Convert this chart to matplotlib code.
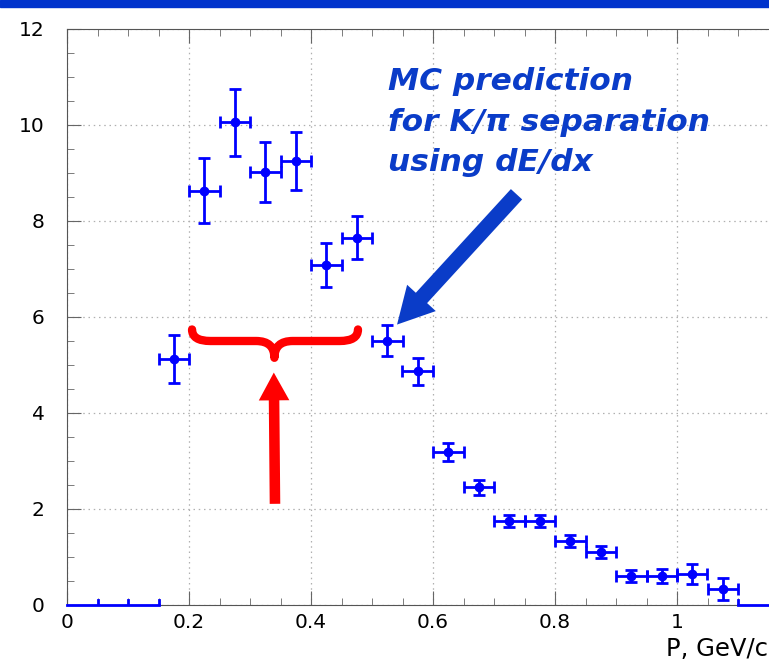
import numpy as np
import matplotlib.pyplot as plt
from matplotlib.path import Path
from matplotlib.patches import PathPatch
from matplotlib.ticker import MultipleLocator

# ======================================
# Data
# ======================================

p_centers = [0.175, 0.225, 0.275, 0.325, 0.375, 0.425, 0.475, 0.525, 0.575,
             0.625, 0.675, 0.725, 0.775, 0.825, 0.875, 0.925, 0.975, 1.025, 1.075]
counts = [5.13, 8.63, 10.06, 9.02, 9.25, 7.09, 7.65, 5.51, 4.87,
          3.19, 2.45, 1.75, 1.75, 1.33, 1.10, 0.60, 0.60, 0.64, 0.33]
count_err = [0.50, 0.68, 0.70, 0.62, 0.61, 0.46, 0.45, 0.33, 0.28,
             0.19, 0.16, 0.13, 0.13, 0.12, 0.12, 0.13, 0.15, 0.21, 0.23]
bin_half = 0.025

# bins with no entries (drawn flat at zero)
empty_low = [0.0, 0.15]
empty_high = [1.1, 1.2]
empty_edges = [0.05, 0.1, 0.15, 1.1]

x_ticks = [0, 0.2, 0.4, 0.6, 0.8, 1]
x_labels = ["0", "0.2", "0.4", "0.6", "0.8", "1"]
y_ticks = [0, 2, 4, 6, 8, 10, 12]

note_text = "MC prediction\nfor K/\u03c0 separation\nusing dE/dx"

# ======================================
# Figure
# ======================================

plt.rcParams["font.family"] = ["DejaVu Sans"]

fig = plt.figure(figsize=(7.69, 6.60), dpi=100)

# blue band at the top
fig.patches.append(plt.Rectangle((0, 1 - 7 / 660), 1, 7 / 660,
                                 transform=fig.transFigure,
                                 color="#0033cc", zorder=0))

ax = fig.add_axes([67 / 769, 55 / 660, 732 / 769, 576 / 660])

ax.set_xlim(0, 1.2)
ax.set_ylim(0, 12)

# empty bins
for seg in [empty_low, empty_high]:
    ax.plot(seg, [0, 0], color="#0000ff", lw=2, clip_on=False, zorder=3)
for e in empty_edges:
    ax.plot([e, e], [0, 0.1], color="#0000ff", lw=2, zorder=3)

ax.errorbar(p_centers, counts,
            xerr=bin_half, yerr=count_err,
            fmt="o", color="#0000ff", ms=6, lw=2,
            capsize=4, capthick=2, zorder=4)

# ticks and grid
ax.set_xticks(x_ticks)
ax.set_xticklabels(x_labels)
ax.set_yticks(y_ticks)
ax.xaxis.set_minor_locator(MultipleLocator(0.05))
ax.yaxis.set_minor_locator(MultipleLocator(0.5))
ax.tick_params(which="both", direction="in", top=True, right=True,
               color="#666666")
ax.tick_params(which="major", length=10, labelsize=14.5, pad=6)
ax.tick_params(which="minor", length=5)
ax.tick_params(axis="y", which="major", pad=16)
ax.grid(True, which="major", linestyle=(0, (1.2, 3)), color="#b0b0b0", lw=0.9)
for s in ax.spines.values():
    s.set_color("#555555")
    s.set_linewidth(0.8)

fig.text(768 / 769, 1 - 649 / 660, "P, GeV/c", ha="right", va="center",
         fontsize=17.5)

# ======================================
# Annotations
# ======================================

ax.text(0.527, 11.2, note_text, color="#0a3cc8", fontsize=22.5,
        fontweight="bold", style="italic",
        ha="left", va="top", linespacing=1.5)

# blue arrow
ax.annotate("", xy=(0.538, 5.8), xytext=(0.74, 8.6),
            arrowprops=dict(arrowstyle="simple,head_length=1.3,head_width=1.4,tail_width=0.55",
                            color="#0a3cc8", lw=0, mutation_scale=20))

# red curly brace
x0, x1 = 0.205, 0.477
xc = 0.34
ytop, ymid, ytip = 5.74, 5.50, 5.15
r = 0.03
verts = [
    (x0, ytop), (x0, ymid), (x0 + r, ymid),
    (xc - r, ymid),
    (xc, ymid), (xc, ytip),
    (xc, ymid), (xc + r, ymid),
    (x1 - r, ymid),
    (x1, ymid), (x1, ytop),
]
codes = [Path.MOVETO, Path.CURVE3, Path.CURVE3,
         Path.LINETO,
         Path.CURVE3, Path.CURVE3,
         Path.CURVE3, Path.CURVE3,
         Path.LINETO,
         Path.CURVE3, Path.CURVE3]
ax.add_patch(PathPatch(Path(verts, codes), fill=False, edgecolor="#ff0000",
                       lw=6, capstyle="round", joinstyle="round", zorder=5))

# red arrow
ax.annotate("", xy=(0.339, 4.9), xytext=(0.341, 2.05),
            arrowprops=dict(arrowstyle="simple,head_length=1.0,head_width=1.1,tail_width=0.38",
                            color="#ff0000", lw=0, mutation_scale=20))

fig.savefig("out.png", dpi=100)
